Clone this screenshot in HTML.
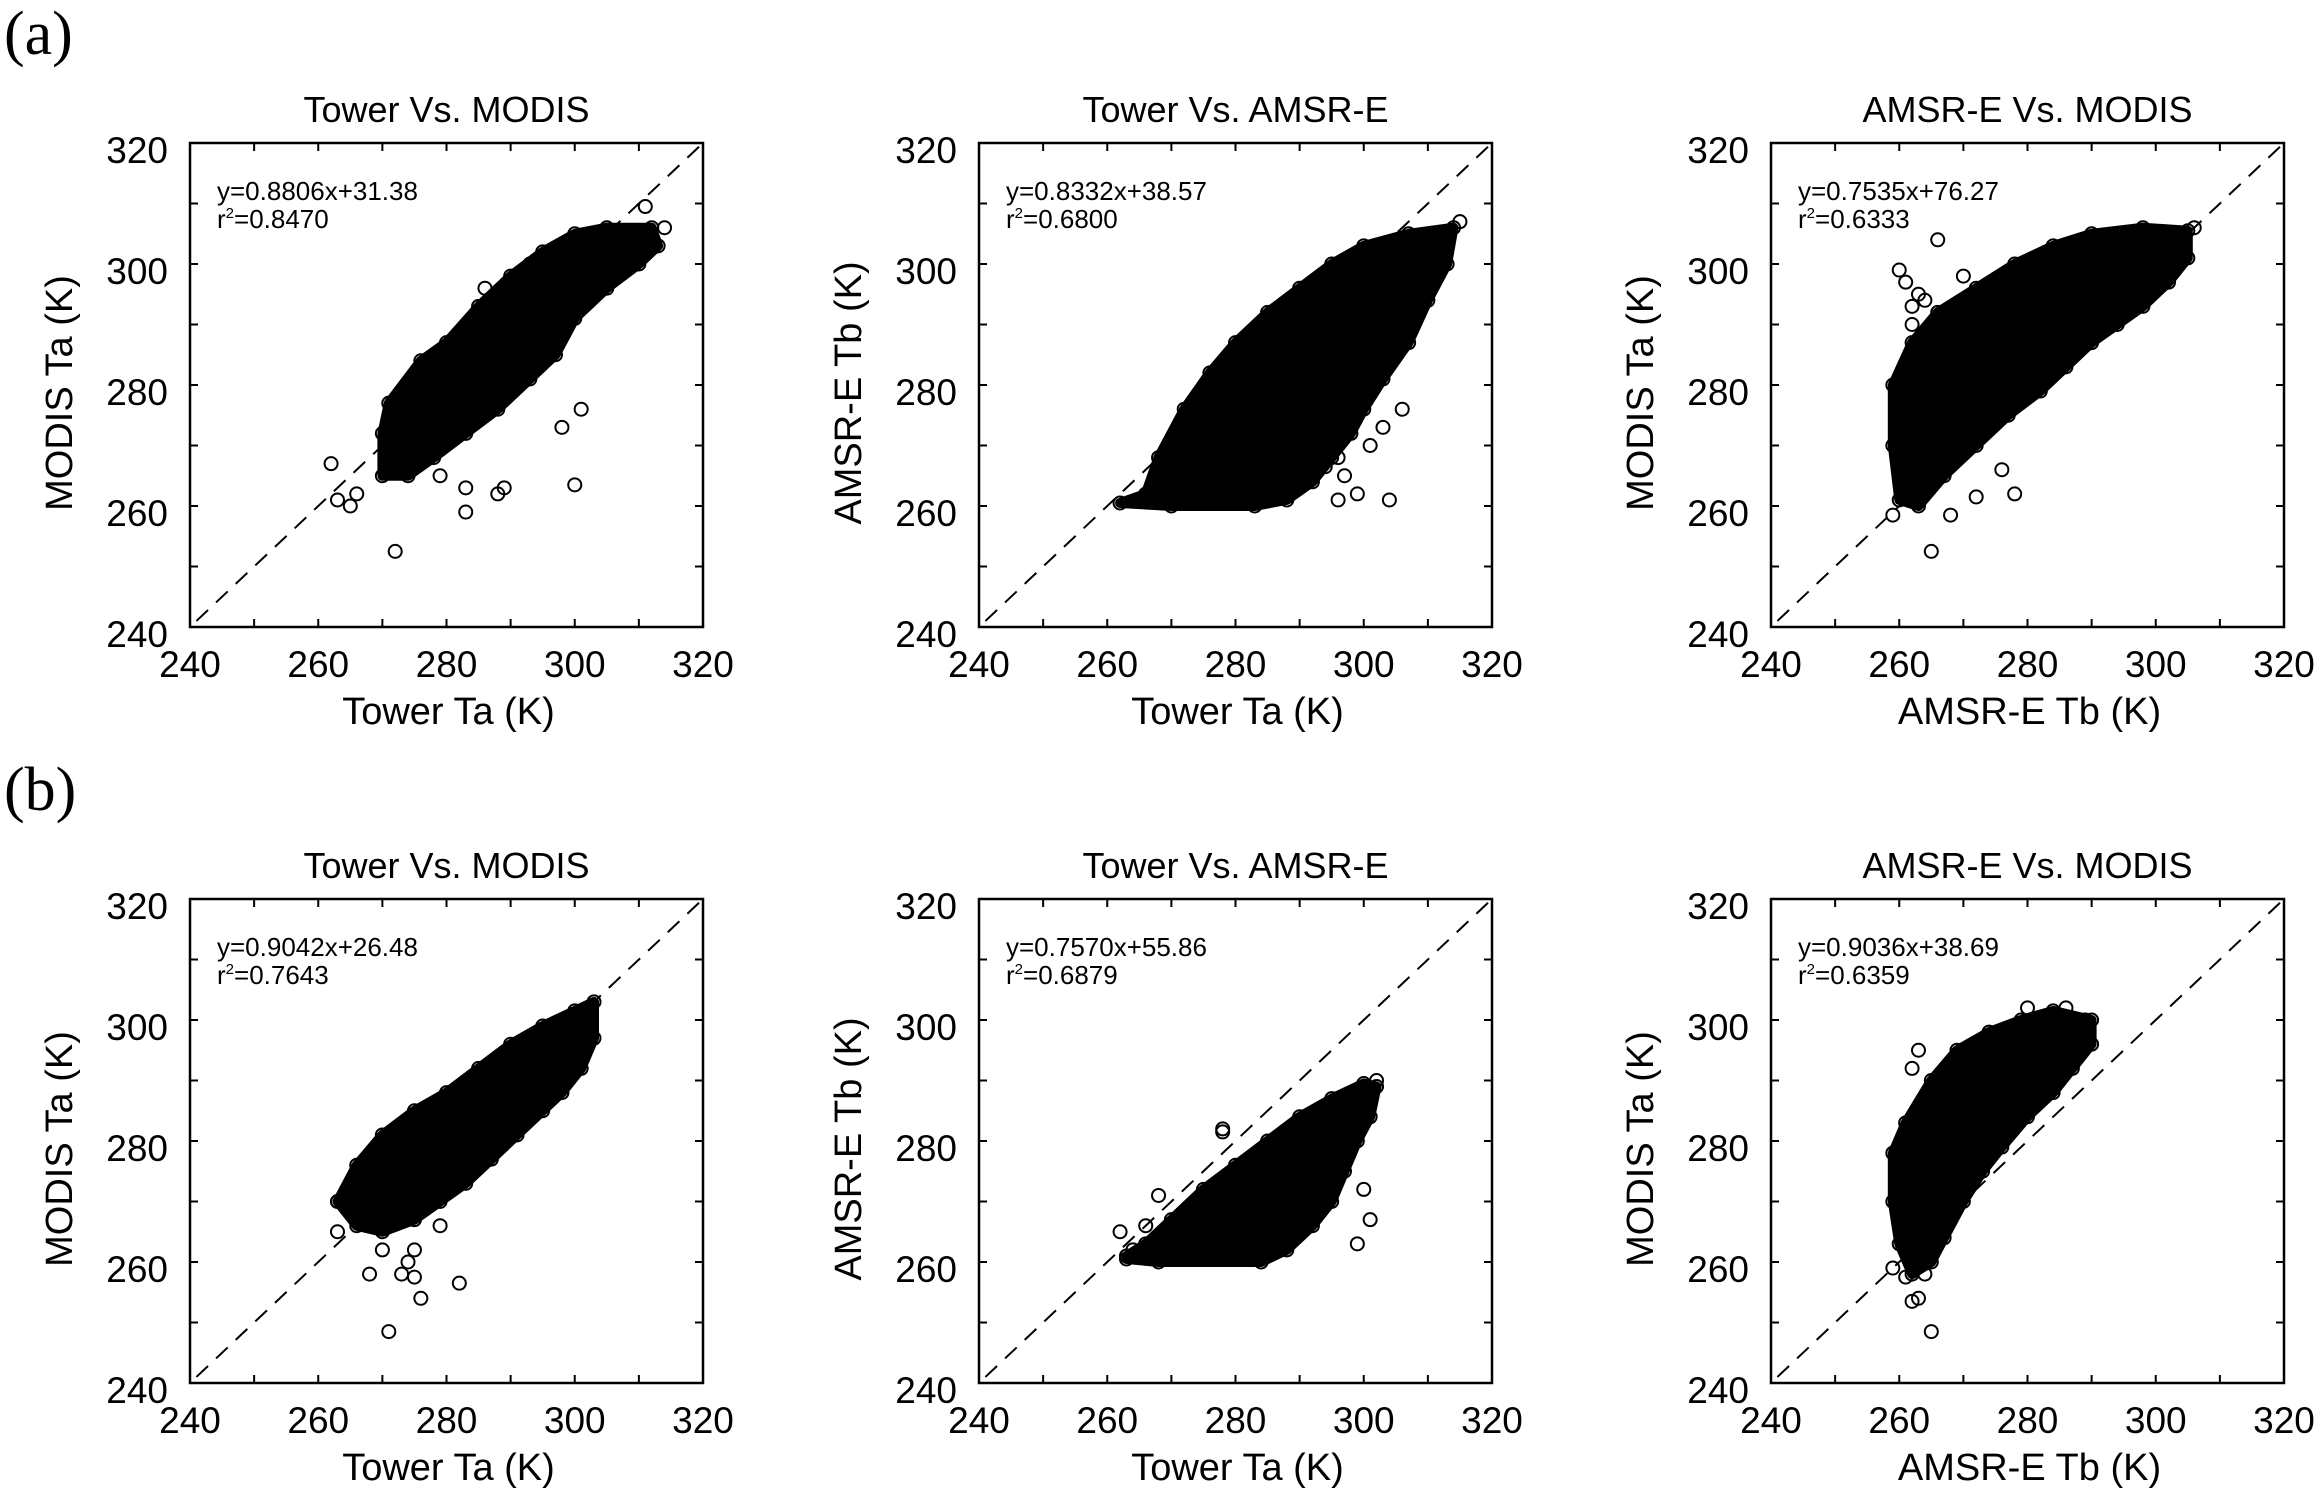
<!DOCTYPE html>
<html><head><meta charset="utf-8"><style>
html,body{margin:0;padding:0;background:#fff}
svg{display:block}
text{font-family:"Liberation Sans",sans-serif;fill:#000}
</style></head><body>
<svg id="fig" width="2320" height="1491" viewBox="0 0 2320 1491" xmlns="http://www.w3.org/2000/svg">
<text x="4" y="54" style="font-family:'Liberation Serif',serif;font-size:62px">(a)</text>
<text x="4" y="810" style="font-family:'Liberation Serif',serif;font-size:62px">(b)</text>
</svg>
<script>
// ---- data ----
const axisMin = 240, axisMax = 320;
const tickValues = [240, 260, 280, 300, 320];
const minorTicks = [240,250,260,270,280,290,300,310,320];
const titles = ["Tower Vs. MODIS","Tower Vs. AMSR-E","AMSR-E Vs. MODIS","Tower Vs. MODIS","Tower Vs. AMSR-E","AMSR-E Vs. MODIS"];
const xTitles = ["Tower Ta (K)","Tower Ta (K)","AMSR-E Tb (K)","Tower Ta (K)","Tower Ta (K)","AMSR-E Tb (K)"];
const yTitles = ["MODIS Ta (K)","AMSR-E Tb (K)","MODIS Ta (K)","MODIS Ta (K)","AMSR-E Tb (K)","MODIS Ta (K)"];
const equations = ["y=0.8806x+31.38","y=0.8332x+38.57","y=0.7535x+76.27","y=0.9042x+26.48","y=0.7570x+55.86","y=0.9036x+38.69"];
const r2Values = ["0.8470","0.6800","0.6333","0.7643","0.6879","0.6359"];

// dense cloud outlines (x,y in K)
const coreA1 = [[270,265],[270,272],[271,277],[276,284],[280,287],[285,293],[290,298],[295,302],[300,305],[305,306],[312,306],[313,303],[310,300],[305,296],[300,291],[297,285],[293,281],[288,276],[283,272],[278,268],[274,265]];
const coreA2 = [[262,260.5],[266,262],[268,268],[272,276],[276,282],[280,287],[285,292],[290,296],[295,300],[300,303],[307,305],[314,306],[313,300],[310,294],[307,287],[303,281],[300,276],[298,272],[295,268],[292,264],[288,261],[283,260],[270,260]];
const coreA3 = [[260,261],[259,270],[259,280],[262,287],[266,292],[272,296],[278,300],[284,303],[290,305],[298,306],[305,305.5],[305,301],[302,297],[298,293],[294,290],[290,287],[286,283],[282,279],[277,275],[272,270],[267,265],[263,260]];
const coreB1 = [[263,270],[266,276],[270,281],[275,285],[280,288],[285,292],[290,296],[295,299],[300,301.5],[303,303],[303,297],[301,292],[298,288],[295,285],[291,281],[287,277],[283,273],[279,270],[275,267],[270,265],[266,266]];
const coreB2 = [[263,261],[266,263],[270,267],[275,272],[280,276],[285,280],[290,284],[295,287],[300,289.5],[302,289],[301,284],[299,280],[297,275],[295,270],[292,266],[288,262],[284,260],[268,260],[263,260.5]];
const coreB3 = [[260,263],[259,270],[259,278],[261,283],[265,290],[269,295],[274,298],[279,300],[284,301.5],[290,300],[290,296],[287,292],[284,288],[280,284],[276,279],[273,275],[270,270],[267,264],[265,260],[262,258]];
// individual outlying points
const outA1 = [[262,267],[263,261],[265,260],[266,262],[272,252.5],[283,259],[283,263],[288,262],[289,263],[300,263.5],[301,276],[298,273],[290,290.5],[286,296],[293,300],[311,309.5],[314,306],[279,265]];
const outA2 = [[297,265],[296,261],[299,262],[304,261],[301,270],[306,276],[303,273],[296,268],[294,266.5],[315,307],[309,302]];
const outA3 = [[260,299],[261,297],[262,293],[264,294],[266,304],[265,252.5],[268,258.5],[272,261.5],[276,266],[278,262],[262,290],[263,295],[270,298],[259,258.5],[306,306]];
const outB1 = [[271,248.5],[276,254],[268,258],[273,258],[275,257.5],[274,260],[282,256.5],[270,262],[263,265],[279,266],[275,262],[263,270]];
const outB2 = [[262,265],[278,282],[278,281.5],[299,263],[301,267],[300,272],[271,264.5],[268,271],[266,266],[264,262],[302,290]];
const outB3 = [[265,248.5],[262,253.5],[263,254],[261,257.5],[264,258],[263,295],[262,292],[259,259],[286,302],[280,302],[289,300]];
const cores = [coreA1,coreA2,coreA3,coreB1,coreB2,coreB3];
const outliers = [outA1,outA2,outA3,outB1,outB2,outB3];

// ---- layout ----
const NS = "http://www.w3.org/2000/svg";
const svg = document.getElementById('fig');
const colX = [190, 979, 1771], rowY = [143, 899];
const W = 513, H = 484;
function mk(tag, attrs, parent){ const e=document.createElementNS(NS,tag); for(const k in attrs) e.setAttribute(k,attrs[k]); (parent||svg).appendChild(e); return e; }

for (let p=0;p<6;p++){
  const L = colX[p%3], T = rowY[Math.floor(p/3)];
  const sx = v => L + (v-axisMin)/(axisMax-axisMin)*W;
  const sy = v => T + H - (v-axisMin)/(axisMax-axisMin)*H;
  const g = mk('g',{});
  
  
  const d = mk('line',{x1:sx(241),y1:sy(241),x2:sx(319.5),y2:sy(319.5),stroke:'#000','stroke-width':2,'stroke-dasharray':'16 11'},g);
  
  
  const core = cores[p];
  const pts = core.map(c=>sx(c[0]).toFixed(1)+','+sy(c[1]).toFixed(1)).join(' ');
  const poly = mk('polygon',{points:pts,fill:'#000',stroke:'#000','stroke-width':10,'stroke-linejoin':'round'},g);
  
  
  core.forEach(c=>{
    const ci = mk('circle',{cx:sx(c[0]),cy:sy(c[1]),r:6.5,fill:'none',stroke:'#000','stroke-width':2},g);
    
    
  });
  outliers[p].forEach(c=>{
    const ci = mk('circle',{cx:sx(c[0]),cy:sy(c[1]),r:6.5,fill:'none',stroke:'#000','stroke-width':2},g);
    
    
  });
  const fr = mk('rect',{x:L,y:T,width:W,height:H,fill:'none',stroke:'#000','stroke-width':2.5},g);
  
  
  minorTicks.forEach(v=>{
    const x=sx(v), y=sy(v);
    mk('line',{x1:x,y1:T+H,x2:x,y2:T+H-8,stroke:'#000','stroke-width':2},g);
    mk('line',{x1:x,y1:T,x2:x,y2:T+8,stroke:'#000','stroke-width':2},g);
    mk('line',{x1:L,y1:y,x2:L+8,y2:y,stroke:'#000','stroke-width':2},g);
    mk('line',{x1:L+W,y1:y,x2:L+W-8,y2:y,stroke:'#000','stroke-width':2},g);
  });
  tickValues.forEach(v=>{
    const tx = mk('text',{x:sx(v),y:T+H+50,'text-anchor':'middle','font-size':37},g);
    tx.textContent=v;
    
    
    const ty = mk('text',{x:L-22,y:sy(v)+20,'text-anchor':'end','font-size':37},g);
    ty.textContent=v;
    
    
  });
  const tt = mk('text',{x:L+W/2,y:T-21,'text-anchor':'middle','font-size':36},g);
  tt.textContent=titles[p];
  
  
  const xt = mk('text',{x:L+W/2+2,y:T+H+97,'text-anchor':'middle','font-size':38},g);
  xt.textContent=xTitles[p];
  
  
  const yt = mk('text',{x:0,y:0,'text-anchor':'middle','font-size':38,transform:'translate('+(L-118)+','+(T+H/2+8)+') rotate(-90)'},g);
  yt.textContent=yTitles[p];
  
  
  const eq = mk('text',{x:L+27,y:T+57,'font-size':26},g);
  eq.textContent=equations[p];
  
  
  const r2 = mk('text',{x:L+27,y:T+85,'font-size':26},g);
  
  
  const t1 = mk('tspan',{},r2); t1.textContent='r';
  const t2 = mk('tspan',{dy:-10,'font-size':15},r2); t2.textContent='2';
  const t3 = mk('tspan',{dy:10},r2); t3.textContent='='+r2Values[p];
}
</script>
</body></html>
